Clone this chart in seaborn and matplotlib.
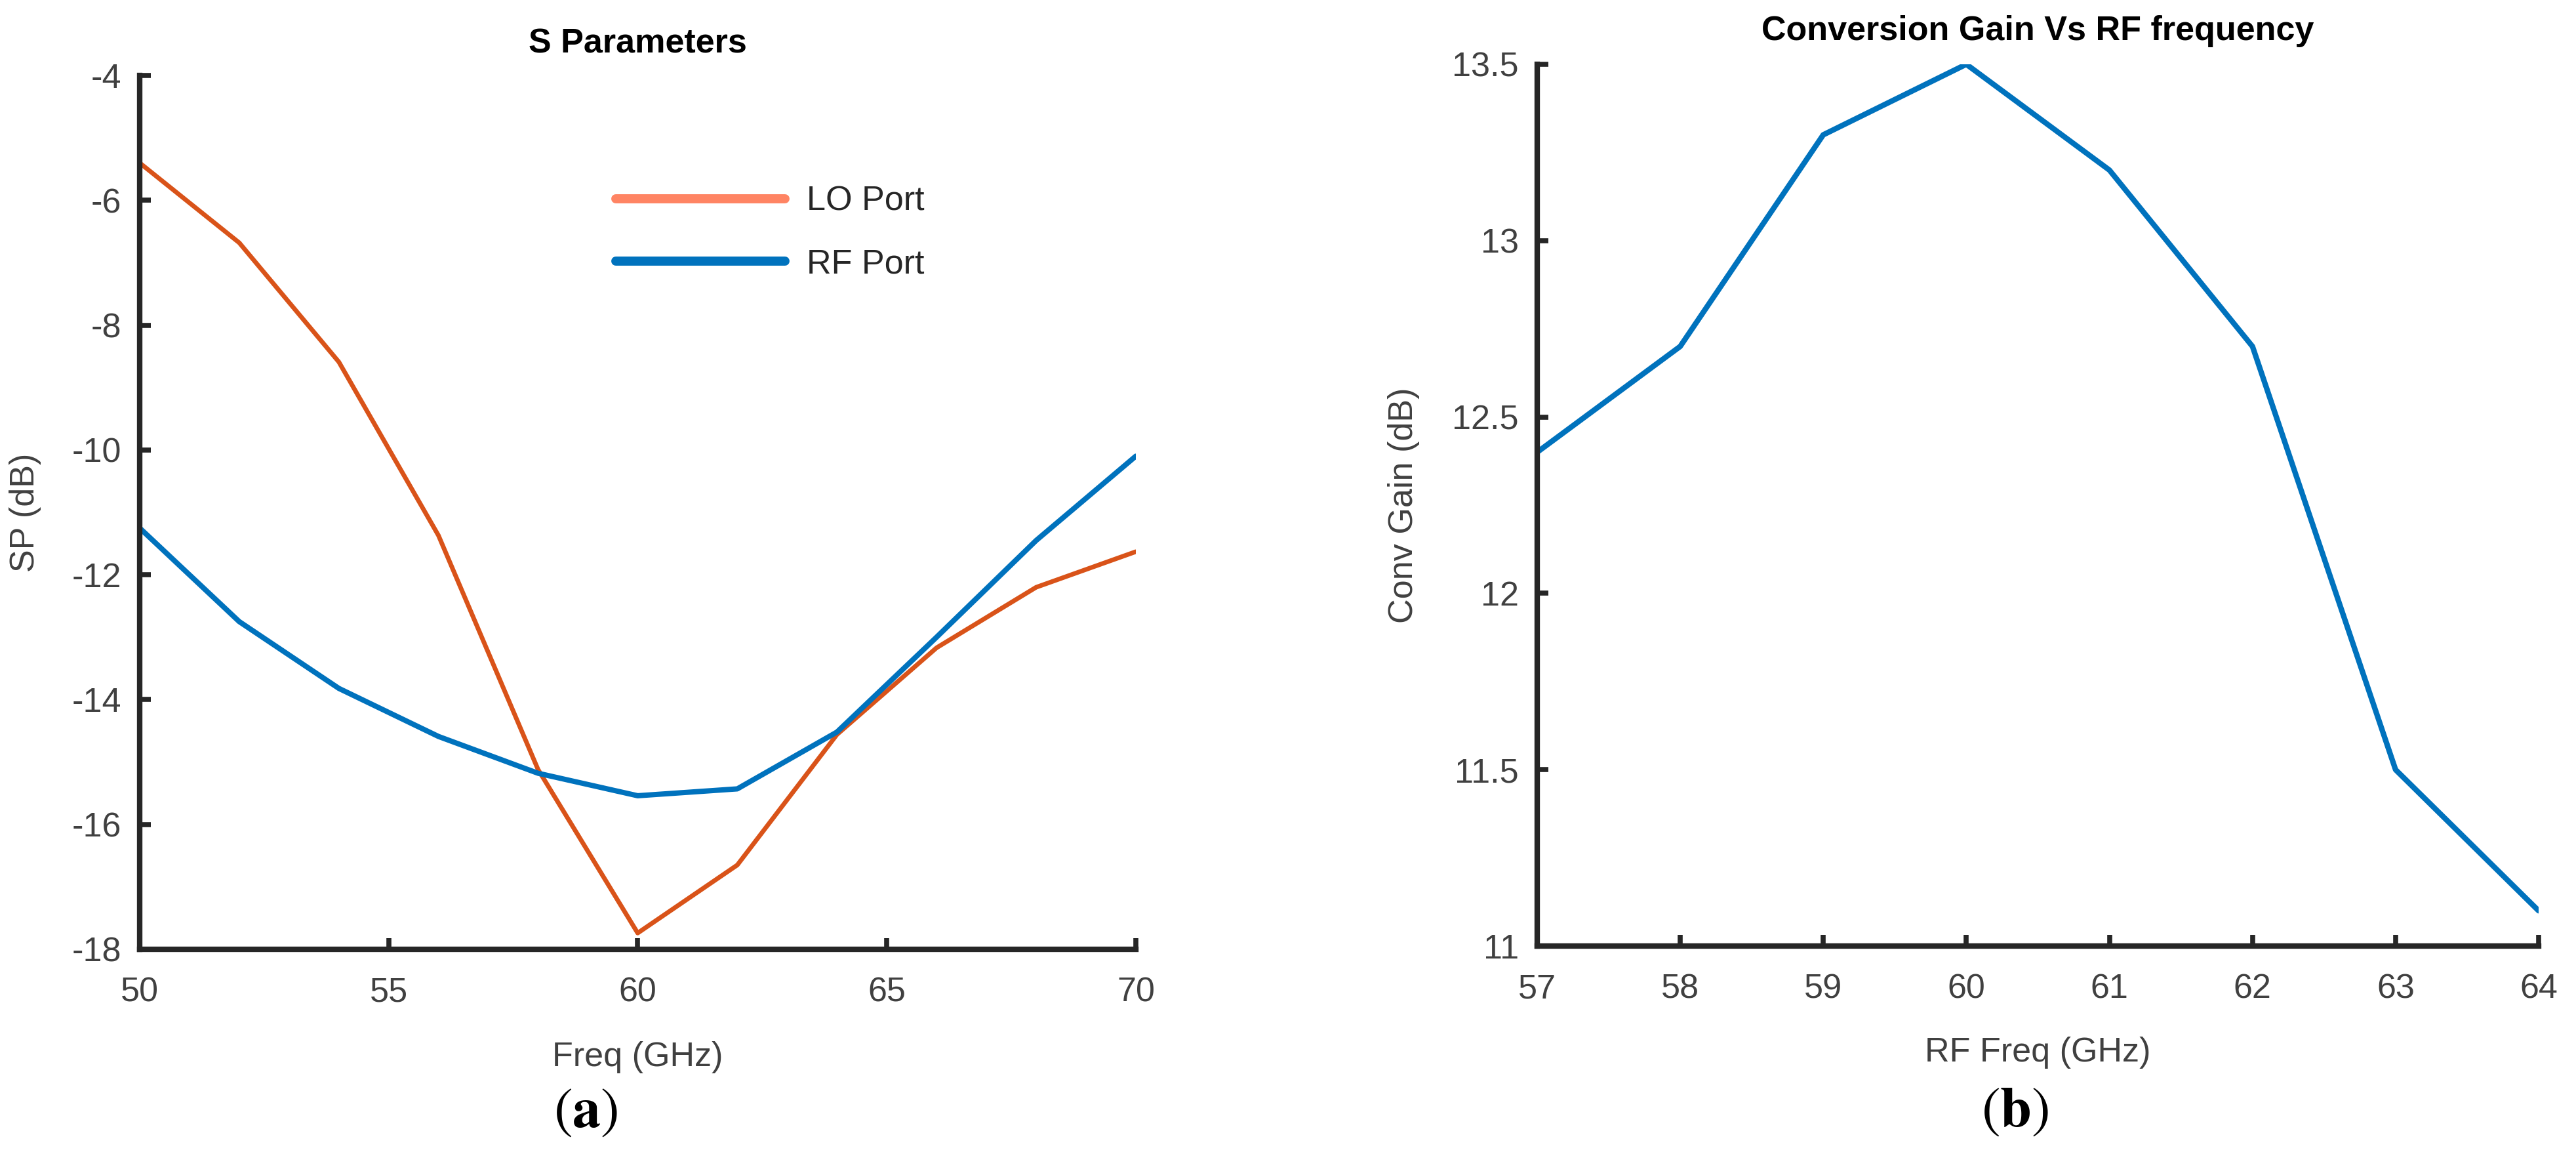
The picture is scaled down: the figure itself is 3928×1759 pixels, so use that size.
import numpy as np
import pandas as pd
import matplotlib
matplotlib.use("Agg")
import matplotlib.pyplot as plt
from matplotlib.lines import Line2D
from matplotlib.ticker import FuncFormatter
import seaborn as sns

# ---------------- data ----------------
sp_freq = [50, 52, 54, 56, 58, 60, 62, 64, 66, 68, 70]
lo_port = [-5.4, -6.68, -8.59, -11.37, -15.12, -17.74, -16.65, -14.56, -13.17, -12.2, -11.63]
rf_port = [-11.25, -12.75, -13.82, -14.59, -15.18, -15.54, -15.43, -14.52, -13.0, -11.45, -10.1]
series_names = ["LO Port", "RF Port"]

cg_freq = [57, 58, 59, 60, 61, 62, 63, 64]
conv_gain = [12.4, 12.7, 13.3, 13.5, 13.2, 12.7, 11.5, 11.1]

sp_xticks = [50, 55, 60, 65, 70]
sp_yticks = [-18, -16, -14, -12, -10, -8, -6, -4]
cg_xticks = [57, 58, 59, 60, 61, 62, 63, 64]
cg_yticks = [11, 11.5, 12, 12.5, 13, 13.5]

# ---------------- style ----------------
sns.set_theme(style="ticks")
plt.rcParams["font.family"] = ["Liberation Sans", "DejaVu Sans"]
plt.rcParams["axes.unicode_minus"] = False
plt.rcParams["mathtext.fontset"] = "stix"

ORANGE = "#D95319"
ORANGE_LEG = "#FF8463"
BLUE = "#0072BD"
SPINE = "#262626"
TXT = "#404040"
FS = 37.5

fig = plt.figure(figsize=(39.28, 17.59), dpi=100)
ax1 = fig.add_axes([0.0542, 0.1774, 0.3867, 0.7572])
ax2 = fig.add_axes([0.5967, 0.1802, 0.3888, 0.7641])

# ---------------- panel (a) ----------------
df_sp = pd.DataFrame({
    "Freq": sp_freq * 2,
    "SP": lo_port + rf_port,
    "Port": [series_names[0]] * len(sp_freq) + [series_names[1]] * len(sp_freq),
})
sns.lineplot(data=df_sp, x="Freq", y="SP", hue="Port", size="Port",
             sizes={series_names[0]: 5.0, series_names[1]: 5.8},
             palette={series_names[0]: ORANGE, series_names[1]: BLUE},
             legend=False, ax=ax1, sort=False)
ax1.set_xlim(50, 70)
ax1.set_ylim(-18, -4)
ax1.set_xticks(sp_xticks)
ax1.set_yticks(sp_yticks)
ax1.set_xlabel("Freq (GHz)", fontsize=FS, color=TXT)
ax1.set_ylabel("SP (dB)", fontsize=FS, color=TXT)
ax1.xaxis.set_label_coords(0.5, -0.105)
ax1.yaxis.set_label_coords(-0.099, 0.5)
ax1.set_title("S Parameters", fontsize=FS, fontweight="bold", color="black",
              y=1.030, va="center")

handles = [Line2D([0], [0], color=ORANGE_LEG, lw=10),
           Line2D([0], [0], color=BLUE, lw=10)]
ax1.legend(handles, series_names, loc="upper left", bbox_to_anchor=(0.478, 0.874),
           frameon=False, fontsize=FS, handlelength=4.96, handletextpad=0.62,
           labelspacing=0.89, borderpad=0, borderaxespad=0)

# ---------------- panel (b) ----------------
df_cg = pd.DataFrame({"RF Freq": cg_freq, "Gain": conv_gain})
sns.lineplot(data=df_cg, x="RF Freq", y="Gain", color=BLUE, lw=6.0, ax=ax2)
ax2.set_xlim(57, 64)
ax2.set_ylim(11, 13.5)
ax2.set_xticks(cg_xticks)
ax2.set_yticks(cg_yticks)
ax2.yaxis.set_major_formatter(FuncFormatter(lambda v, p: f"{v:g}"))
ax2.set_xlabel("RF Freq (GHz)", fontsize=FS, color=TXT)
ax2.set_ylabel("Conv Gain (dB)", fontsize=FS, color=TXT)
ax2.xaxis.set_label_coords(0.5, -0.103)
ax2.yaxis.set_label_coords(-0.117, 0.5)
ax2.set_title("Conversion Gain Vs RF frequency", fontsize=FS, fontweight="bold",
              color="black", y=1.031, va="center")

for ax in (ax1, ax2):
    sns.despine(ax=ax)
    for s in ("left", "bottom"):
        ax.spines[s].set_linewidth(6.0)
        ax.spines[s].set_color(SPINE)
    ax.tick_params(axis="both", direction="in", length=12, width=5.5, color=SPINE,
                   labelsize=FS, labelcolor=TXT)
    ax.tick_params(axis="x", pad=30)
    ax.tick_params(axis="y", pad=20)
    ax.grid(False)

# ---------------- sub-figure labels ----------------
fig.text(893 / 3928, 1 - 1696 / 1759, r"$(\mathbf{a})$", fontsize=62,
         ha="center", va="center", color="black")
fig.text(3073 / 3928, 1 - 1695 / 1759, r"$(\mathbf{b})$", fontsize=62,
         ha="center", va="center", color="black")

fig.savefig("out.png", dpi=100, facecolor="white")
